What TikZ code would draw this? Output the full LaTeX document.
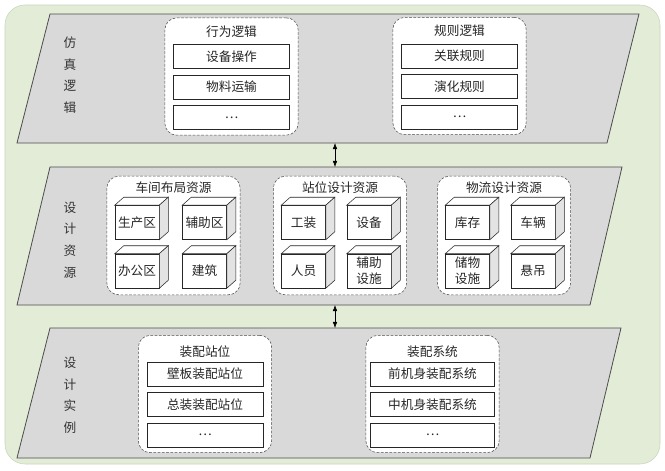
\documentclass[tikz,border=0pt]{standalone}
\usepackage{fontspec}
\setmainfont{Noto Sans CJK SC}
\usepackage{tikz}
\usetikzlibrary{arrows.meta,positioning,calc}
\definecolor{simgreen}{HTML}{E2ECD7}
\definecolor{simgreenline}{HTML}{C9D3BD}
\definecolor{simgray}{HTML}{D9D9D9}
\definecolor{simside}{HTML}{E3E3E3}
\tikzset{
  layer/.style={draw=black!70, line width=0.6pt, fill=simgray},
  layerlabel/.style={align=center, text=black!80, font=\fontsize{9.5pt}{16.2pt}\selectfont},
  group/.style={rounded corners=9pt, draw=black!70, dash pattern=on 2pt off 1.2pt, fill=white, minimum width=100pt, minimum height=88pt, inner sep=0pt},
  grouptitle/.style={inner sep=0pt, text=black!85, font=\fontsize{9.5pt}{11pt}\selectfont},
  item/.style={draw=black!85, fill=white, minimum width=87pt, minimum height=18pt, inner sep=0pt, text=black!85, font=\fontsize{9.5pt}{11pt}\selectfont},
  cubefront/.style={draw=black!85, fill=white, minimum width=33pt, minimum height=25.5pt, inner sep=0pt, align=center, text=black!85, font=\fontsize{9.5pt}{12pt}\selectfont},
  cubetop/.style={draw=black!85, fill=white},
  cubeside/.style={draw=black!85, fill=simside},
  arrow/.style={{Latex[length=1.6mm,width=1.2mm]}-{Latex[length=1.6mm,width=1.2mm]}, thin, draw=black}
}
% one resource block: front face as a node, top and side faces drawn from it
\newcommand{\rescube}[3]{%
  \node[cubefront] (#1) at (#2) {#3};
  \draw[cubetop] (#1.north west) -- ++(9,-8) -- ($(#1.north east)+(9,-8)$) -- (#1.north east) -- cycle;
  \draw[cubeside] (#1.north east) -- ++(9,-8) -- ($(#1.south east)+(9,-8)$) -- (#1.south east) -- cycle;
}

\begin{document}
\begin{tikzpicture}[x=0.75pt, y=-0.75pt]
\useasboundingbox (0,0) rectangle (665,471);
\draw[draw=simgreenline, fill=simgreen, rounded corners=15pt] (5,5) rectangle (660,464);

% layers
\draw[layer] (50,14) -- (639,14) -- (607,143) -- (17,143) -- cycle;
\draw[layer] (50,167) -- (622,167) -- (590,305) -- (17,305) -- cycle;
\draw[layer] (50,328) -- (621,328) -- (590,458) -- (17,458) -- cycle;

\node[layerlabel] (simlbl) at (70,75) {仿\\真\\逻\\辑};
\node[layerlabel] (reslbl) at (70,240) {设\\计\\资\\源};
\node[layerlabel] (inslbl) at (70,395.5) {设\\计\\实\\例};

% simulation logic
\node[group] (beh) at (231.5,76.5) {};
\node[grouptitle] (behT) at ([yshift=-10.5pt]beh.north) {行为逻辑};
\node[item] (beh1) at ([yshift=-29.25pt]beh.north) {设备操作};
\node[item, below=4.5pt of beh1] (beh2) {物料运输};
\node[item, below=4.5pt of beh2] (beh3) {\dots};

\node[group] (rule) at (459.5,76) {};
\node[grouptitle] (ruleT) at ([yshift=-10.5pt]rule.north) {规则逻辑};
\node[item] (rule1) at ([yshift=-29.25pt]rule.north) {关联规则};
\node[item, below=4.5pt of rule1] (rule2) {演化规则};
\node[item, below=4.5pt of rule2] (rule3) {\dots};

% design resources
\node[group, minimum height=89pt] (shop) at (173.5,235.5) {};
\node[grouptitle] (shopT) at ([yshift=-9pt]shop.north) {车间布局资源};
\rescube{shop1}{$(shop)+(-36.5,-13)$}{生产区}
\rescube{shop2}{$(shop)+(31,-13)$}{辅助区}
\rescube{shop3}{$(shop)+(-36.5,35.5)$}{办公区}
\rescube{shop4}{$(shop)+(31,35.5)$}{建筑}

\node[group, minimum height=89pt] (stat) at (340,235.5) {};
\node[grouptitle] (statT) at ([yshift=-9pt]stat.north) {站位设计资源};
\rescube{stat1}{$(stat)+(-36.5,-13)$}{工装}
\rescube{stat2}{$(stat)+(29,-13)$}{设备}
\rescube{stat3}{$(stat)+(-36.5,35.5)$}{人员}
\rescube{stat4}{$(stat)+(29,35.5)$}{辅助\\设施}

\node[group, minimum height=89pt] (logi) at (504,235.5) {};
\node[grouptitle] (logiT) at ([yshift=-9pt]logi.north) {物流设计资源};
\rescube{logi1}{$(logi)+(-36.5,-13)$}{库存}
\rescube{logi2}{$(logi)+(29,-13)$}{车辆}
\rescube{logi3}{$(logi)+(-36.5,35.5)$}{储物\\设施}
\rescube{logi4}{$(logi)+(29,35.5)$}{悬吊}

% design instances
\node[group] (asta) at (205,394) {};
\node[grouptitle] (astaT) at ([yshift=-12.75pt]asta.north) {装配站位};
\node[item] (asta1) at ([yshift=-29.25pt]asta.north) {壁板装配站位};
\node[item, below=4.5pt of asta1] (asta2) {总装装配站位};
\node[item, below=4.5pt of asta2] (asta3) {\dots};

\node[group] (asys) at (432.5,394) {};
\node[grouptitle] (asysT) at ([yshift=-12.75pt]asys.north) {装配系统};
\node[item, minimum width=93pt] (asys1) at ([yshift=-29.25pt]asys.north) {前机身装配系统};
\node[item, minimum width=93pt, below=4.5pt of asys1] (asys2) {中机身装配系统};
\node[item, minimum width=93pt, below=4.5pt of asys2] (asys3) {\dots};

% links between layers
\coordinate (simB) at (335,143);
\coordinate (resT) at (335,167);
\coordinate (resB) at (335,305);
\coordinate (insT) at (335,328);
\draw[arrow] (simB) -- (resT);
\draw[arrow] (resB) -- (insT);
\end{tikzpicture}
\end{document}
